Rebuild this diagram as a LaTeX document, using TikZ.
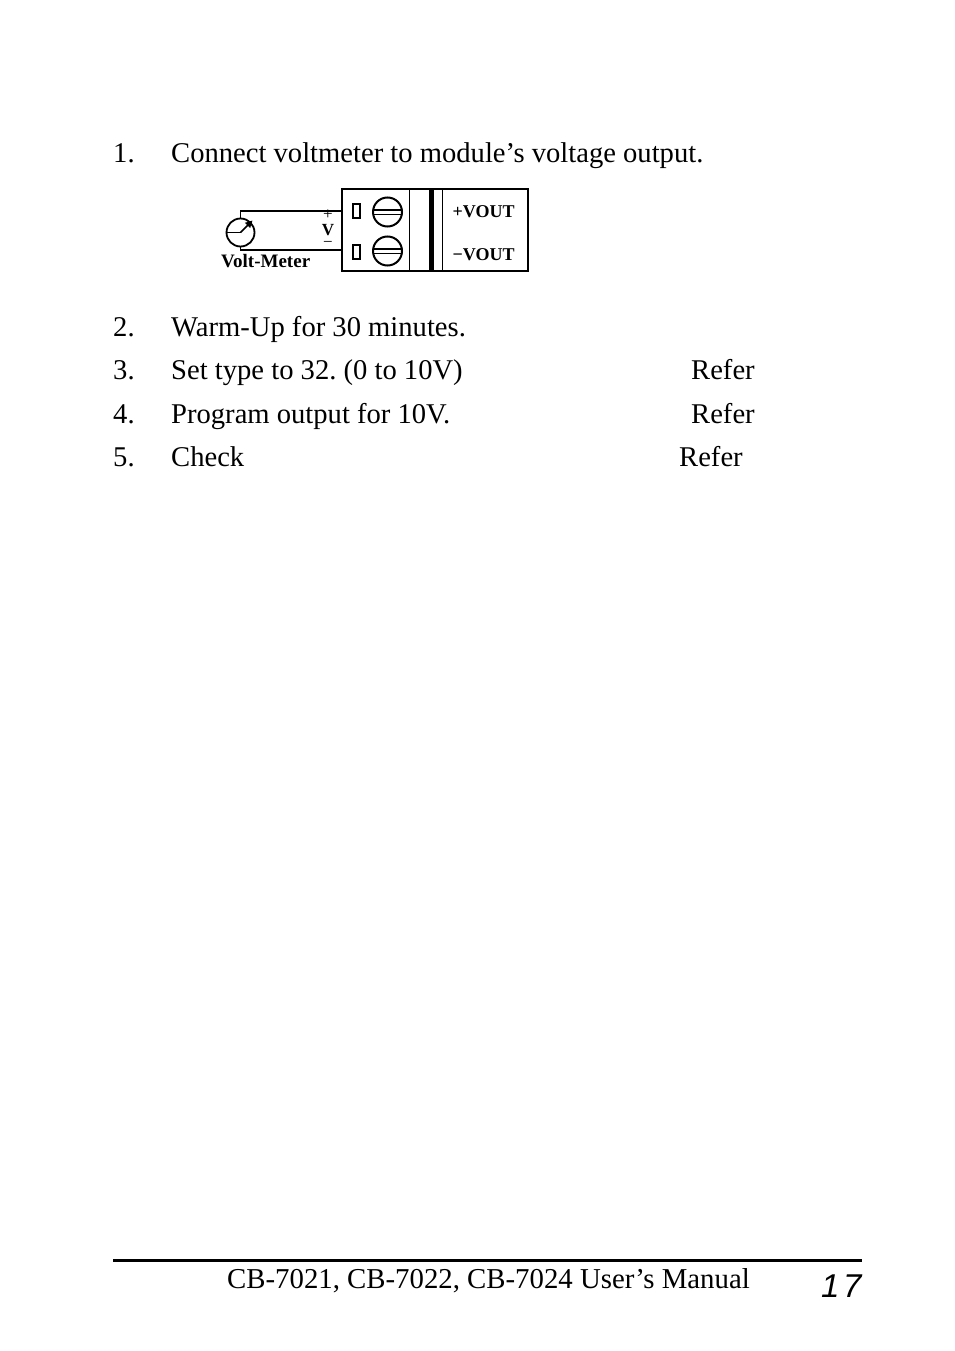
\documentclass[tikz,border=0pt]{standalone}
\usepackage{fontspec}
\setmainfont{Liberation Serif}
\newfontfamily\pagenumfont{Liberation Sans}
\usetikzlibrary{arrows.meta,calc}
\frenchspacing
\begin{document}
\begin{tikzpicture}[x=1pt,y=-1pt,
  body/.style={anchor=base west, inner sep=0pt, font=\fontsize{28.6}{32}\selectfont},
  blbl/.style={inner sep=0pt, font=\bfseries\fontsize{18}{20}\selectfont},
  sign/.style={anchor=base, inner sep=0pt, font=\fontsize{17}{18}\selectfont},
  wire/.style={line width=1.5pt},
  termbox/.style={draw, line width=2.2pt, minimum width=7pt, minimum height=14pt, inner sep=0pt},
  screw/.style={circle, draw, line width=2pt, minimum size=29pt, inner sep=0pt},
  slot/.style={line width=1.6pt},
  pagenum/.style={anchor=base west, inner sep=0pt, font=\pagenumfont\itshape\fontsize{33}{36}\selectfont}
]
\useasboundingbox (0,0) rectangle (954,1351);

% ---- text lines ----
\node[body] (n1) at (113,163) {1.};
\node[body] (t1) at (171,163) {Connect voltmeter to module’s voltage output.};
\node[body] (n2) at (113,336) {2.};
\node[body] (t2) at (171,336) {Warm-Up for 30 minutes.};
\node[body] (n3) at (113,379) {3.};
\node[body] (t3) at (171,379) {Set type to 32. (0 to 10V)};
\node[body] (r3) at (691,379) {Refer};
\node[body] (n4) at (113,423) {4.};
\node[body] (t4) at (171,423) {Program output for 10V.};
\node[body] (r4) at (691,423) {Refer};
\node[body] (n5) at (113,466) {5.};
\node[body] (t5) at (171,466) {Check};
\node[body] (r5) at (679,466) {Refer};

% ---- connector block ----
\node[draw, line width=2.5pt, minimum width=186pt, minimum height=82pt, inner sep=0pt] (box) at (435,230) {};
\node[termbox] (ta) at (356.5,211) {};
\node[termbox] (tb) at (356.5,252) {};
\node[screw] (sa) at (387.5,212) {};
\node[screw] (sb) at (387.5,251) {};
\draw[slot] ($(sa.center)+(-14.3,-2.3)$) -- ($(sa.center)+(14.3,-2.3)$);
\draw[slot] ($(sa.center)+(-14.3,2.3)$) -- ($(sa.center)+(14.3,2.3)$);
\draw[slot] ($(sb.center)+(-14.3,-2.3)$) -- ($(sb.center)+(14.3,-2.3)$);
\draw[slot] ($(sb.center)+(-14.3,2.3)$) -- ($(sb.center)+(14.3,2.3)$);
\draw[line width=1.5pt] (409.5,189) -- (409.5,271);
\fill (428.5,189) rectangle (433.5,271);
\draw[line width=1.5pt] (442.5,189) -- (442.5,271);
\node[blbl, anchor=base west] (vp) at (452.5,218) {+VOUT};
\node[blbl, anchor=base west] (vn) at (452.5,260) {−VOUT};

% ---- volt-meter ----
\node[circle, draw, line width=1.8pt, minimum size=28pt, inner sep=0pt] (vm) at (240.5,232.5) {};
\draw[line width=1.8pt] (vm.west) -- (vm.center);
\draw[line width=1.6pt, -{Triangle[length=7pt,width=7pt]}] (vm.center) -- ($(vm.center)+(12,-12)$);
\coordinate (pa) at (342,211);
\coordinate (pb) at (342,250);
\draw[wire] (vm.north) |- (pa);
\draw[wire] (vm.south) |- (pb);
\node[sign] (plus) at (328,219) {+};
\node[blbl, anchor=base, font=\bfseries\fontsize{17}{19}\selectfont] (vv) at (328,235) {V};
\node[sign] (minus) at (328,247.5) {−};
\node[blbl, anchor=base west, font=\bfseries\fontsize{19}{21}\selectfont] (vmlbl) at (221,267) {Volt-Meter};

% ---- footer ----
\coordinate (fl) at (113,1260);
\coordinate (fr) at (862,1260);
\draw[line width=3pt] (fl) -- (fr);
\node[body, font=\fontsize{28.8}{32}\selectfont] (foot) at (227,1288) {CB-7021, CB-7022, CB-7024 User’s Manual};
\node[pagenum] (pg1) at (821,1297) {1};
\node[pagenum] (pg7) at (843,1297) {7};
\end{tikzpicture}
\end{document}
